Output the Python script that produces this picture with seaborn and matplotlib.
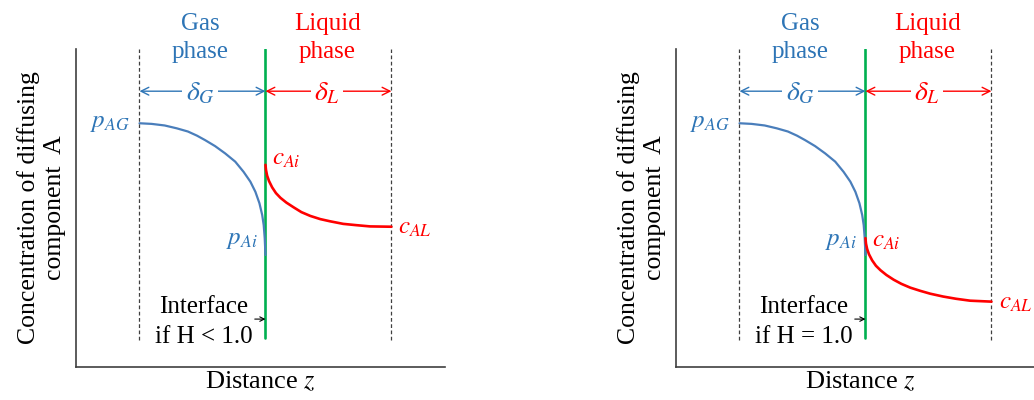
import matplotlib
matplotlib.use("Agg")
import matplotlib.pyplot as plt
import seaborn as sns
import pandas as pd

# z in film units (0 = gas film edge, 1 = interface, 2 = liquid film edge)
gas_z = [0.000, 0.096, 0.200, 0.296, 0.384, 0.456, 0.520, 0.600, 0.680, 0.760,
         0.826, 0.880, 0.920, 0.952, 0.974, 0.986, 0.994, 1.000]
gas_conc = [7.67, 7.65, 7.60, 7.51, 7.41, 7.28, 7.14, 6.95, 6.72, 6.46,
            6.14, 5.83, 5.51, 5.15, 4.78, 4.46, 4.05, 3.52]

liq_z = [1.000, 1.004, 1.013, 1.028, 1.053, 1.083, 1.119, 1.166, 1.224,
         1.285, 1.356, 1.435, 1.514, 1.617, 1.719, 1.830, 2.000]
liq_conc_left = [6.36, 6.20, 6.02, 5.85, 5.65, 5.47, 5.32, 5.17, 5.02,
                 4.87, 4.75, 4.65, 4.58, 4.50, 4.46, 4.42, 4.41]
liq_conc_right = [4.05, 3.88, 3.71, 3.54, 3.35, 3.18, 3.04, 2.89, 2.74,
                  2.61, 2.49, 2.39, 2.30, 2.21, 2.14, 2.08, 2.05]

conditions = ["if H < 1.0", "if H = 1.0"]

BLUE_TXT = "#2E75B6"
BLUE_LINE = "#4A7EBB"
RED = "#FF0000"
GREEN = "#00B050"

sns.set_theme(style="white")
plt.rcParams["font.family"] = ["Liberation Serif", "DejaVu Serif"]
plt.rcParams["mathtext.fontset"] = "stix"


def draw_panel(ax, liq_conc, cond, pai_xy, cai_xy, cal_xy):
    gas = pd.DataFrame({"z": gas_z, "conc": gas_conc})
    liq = pd.DataFrame({"z": liq_z, "conc": liq_conc})

    # film boundaries and interface
    for xd in [0, 2]:
        ax.plot([xd, xd], [0.84, 10], ls=(0, (3, 2)), color="#404040", lw=0.9)
    ax.plot([1, 1], [0.9, 10], color=GREEN, lw=1.9, zorder=3)

    sns.lineplot(data=gas, x="z", y="conc", ax=ax, color=BLUE_LINE, lw=1.6,
                 estimator=None, sort=False, zorder=4, solid_joinstyle="round")
    sns.lineplot(data=liq, x="z", y="conc", ax=ax, color=RED, lw=1.9,
                 estimator=None, sort=False, zorder=4, solid_joinstyle="round")

    # film thickness arrows
    ax.annotate("", xy=(0, 8.68), xytext=(1, 8.68),
                arrowprops=dict(arrowstyle="<->", color=BLUE_TXT, lw=1, shrinkA=0, shrinkB=0,
                                mutation_scale=14))
    ax.annotate("", xy=(1, 8.68), xytext=(2, 8.68),
                arrowprops=dict(arrowstyle="<->", color=RED, lw=1, shrinkA=0, shrinkB=0,
                                mutation_scale=14))
    box = dict(facecolor="white", edgecolor="none", pad=2.5)
    ax.text(0.48, 8.62, r"$\delta_G$", color=BLUE_TXT, fontsize=20, ha="center", va="center", bbox=box)
    ax.text(1.49, 8.62, r"$\delta_L$", color=RED, fontsize=20, ha="center", va="center", bbox=box)

    # phase titles
    ax.text(0.48, 10.61, "Gas", color=BLUE_TXT, fontsize=18, ha="center", va="baseline", clip_on=False)
    ax.text(0.48, 9.73, "phase", color=BLUE_TXT, fontsize=18, ha="center", va="baseline", clip_on=False)
    ax.text(1.49, 10.61, "Liquid", color=RED, fontsize=18, ha="center", va="baseline", clip_on=False)
    ax.text(1.49, 9.73, "phase", color=RED, fontsize=18, ha="center", va="baseline", clip_on=False)

    # concentration labels
    ax.text(-0.075, 7.67, r"$p_{AG}$", color=BLUE_TXT, fontsize=18, ha="right", va="center")
    ax.text(pai_xy[0], pai_xy[1], r"$p_{Ai}$", color=BLUE_TXT, fontsize=18, ha="right", va="center")
    ax.text(cai_xy[0], cai_xy[1], r"$c_{Ai}$", color=RED, fontsize=18, ha="left", va="center")
    ax.text(cal_xy[0], cal_xy[1], r"$c_{AL}$", color=RED, fontsize=18, ha="left", va="center",
            clip_on=False)

    # interface note
    ax.text(0.51, 1.69, "Interface", fontsize=18, ha="center", va="baseline", color="black")
    ax.text(0.51, 0.75, cond, fontsize=18, ha="center", va="baseline", color="black")
    ax.annotate("", xy=(1.0, 1.5), xytext=(0.915, 1.5),
                arrowprops=dict(arrowstyle="->", color="black", lw=0.8, shrinkA=0, shrinkB=0,
                                mutation_scale=8))

    ax.set_xlim(-0.504, 2.425)
    ax.set_ylim(0, 10)
    ax.set_xticks([])
    ax.set_yticks([])
    for side in ["top", "right"]:
        ax.spines[side].set_visible(False)
    for side in ["left", "bottom"]:
        ax.spines[side].set_color("#404040")
        ax.spines[side].set_linewidth(1.2)
    ax.set_xlabel("Distance $z$", fontsize=19, labelpad=2, color="black")
    ax.set_ylabel("Concentration of diffusing\ncomponent  A", fontsize=18.5, labelpad=7,
                  color="black", linespacing=1.25)


fig = plt.figure(figsize=(10.34, 4), dpi=100)
ax1 = fig.add_axes([76 / 1034, 33.3 / 400, 369 / 1034, 317.4 / 400])
ax2 = fig.add_axes([676 / 1034, 33.3 / 400, 369 / 1034, 317.4 / 400])

draw_panel(ax1, liq_conc_left, conditions[0], (0.94, 3.99), (1.05, 6.55), (2.05, 4.37))
draw_panel(ax2, liq_conc_right, conditions[1], (0.93, 3.96), (1.05, 3.96), (2.06, 2.0))

fig.savefig("out.png", dpi=100)
